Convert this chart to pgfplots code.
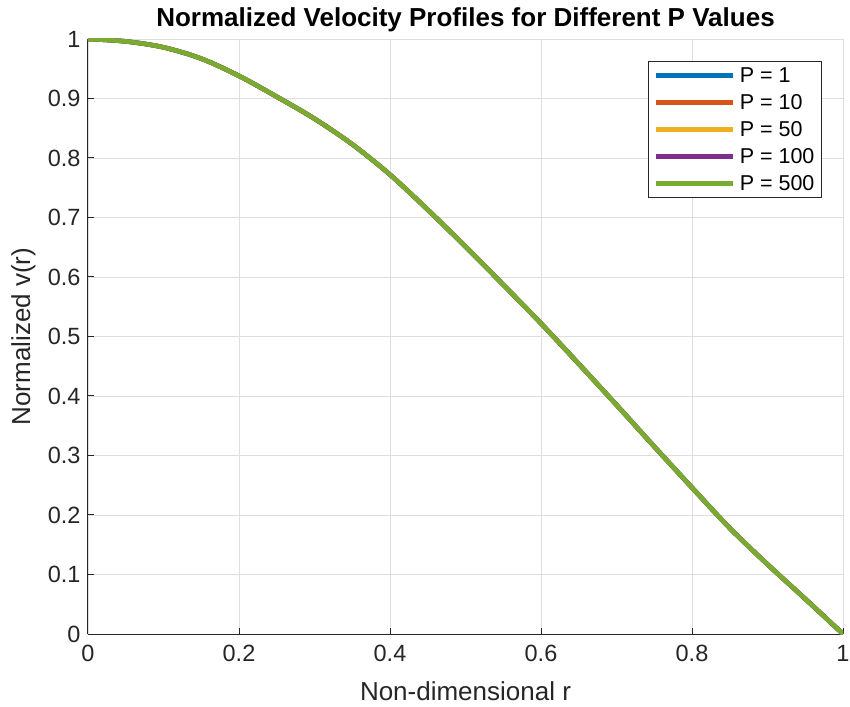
\documentclass[border=0pt]{standalone}
\usepackage{fontspec}
\setmainfont{Liberation Sans}
\usepackage{pgfplots}
\pgfplotsset{compat=1.18}
\usepackage{pgfplotstable}
\definecolor{mblue}{rgb}{0,0.447,0.741}
\definecolor{morange}{rgb}{0.85,0.325,0.098}
\definecolor{myellow}{rgb}{0.929,0.694,0.125}
\definecolor{mpurple}{rgb}{0.494,0.184,0.556}
\definecolor{mgreen}{rgb}{0.466,0.674,0.188}
\definecolor{axgray}{rgb}{0.15,0.15,0.15}
\definecolor{gridgray}{rgb}{0.87,0.87,0.87}
\pgfplotstableread{
r v
0 1.000
0.05 0.996
0.1 0.986
0.15 0.967
0.2 0.938
0.25 0.903
0.3 0.866
0.35 0.823
0.4 0.772
0.45 0.713
0.5 0.651
0.55 0.587
0.6 0.522
0.65 0.454
0.7 0.385
0.75 0.315
0.8 0.246
0.85 0.178
0.9 0.117
0.95 0.059
1.0 0.000
}\profile
\begin{document}
\begin{tikzpicture}
\begin{axis}[
  scale only axis,
  width=755pt, height=595pt,
  xmin=0, xmax=1, ymin=0, ymax=1,
  xtick={0,0.2,0.4,0.6,0.8,1},
  ytick={0,0.1,0.2,0.3,0.4,0.5,0.6,0.7,0.8,0.9,1},
  /pgf/number format/assume math mode=true,
  /pgf/number format/fixed,
  ticklabel style={font=\fontsize{23.5}{28}\selectfont, text=axgray},
  yticklabel style={xshift=-4pt},
  xticklabel style={yshift=-8pt},
  axis x line*=bottom, axis y line*=left,
  axis line style={-, axgray, line width=1pt},
  tick style={axgray, line width=1pt},
  tick align=inside,
  major tick length=6pt,
  grid=major,
  major grid style={gridgray, line width=0.8pt},
  xlabel={Non-dimensional r},
  ylabel={Normalized v(r)},
  xlabel style={font=\fontsize{26}{30}\selectfont, text=axgray, at={(axis description cs:0.5,-0.0958)}, anchor=center},
  ylabel style={font=\fontsize{26}{30}\selectfont, text=axgray, at={(axis description cs:-0.0854,0.5)}, anchor=center},
  title={Normalized Velocity Profiles for Different P Values},
  title style={font=\bfseries\fontsize{26}{30}\selectfont, at={(axis description cs:0.5,1.023)}, anchor=center},
  legend style={at={(rel axis cs:0.972,0.963)}, anchor=north east,
    draw=axgray, line width=0.8pt, fill=white,
    font=\fontsize{21.5}{24}\selectfont,
    inner xsep=5pt, inner ysep=4pt, row sep=6.5pt, column sep=3pt},
  legend cell align=left,
  legend image code/.code={\draw[#1, line width=4.5pt] (0pt,0pt) -- (77pt,0pt);},
  every axis plot/.append style={line width=4.5pt},
]
\addplot[mblue, smooth] table[x=r, y=v] {\profile};
\addlegendentry{P = 1}
\addplot[morange, smooth] table[x=r, y=v] {\profile};
\addlegendentry{P = 10}
\addplot[myellow, smooth] table[x=r, y=v] {\profile};
\addlegendentry{P = 50}
\addplot[mpurple, smooth] table[x=r, y=v] {\profile};
\addlegendentry{P = 100}
\addplot[mgreen, smooth] table[x=r, y=v] {\profile};
\addlegendentry{P = 500}
\end{axis}
\pgfresetboundingbox
\path[use as bounding box] ([shift={(-88pt,-72pt)}]current axis.south west) rectangle ([shift={(7pt,39pt)}]current axis.north east);
\end{tikzpicture}
\end{document}
